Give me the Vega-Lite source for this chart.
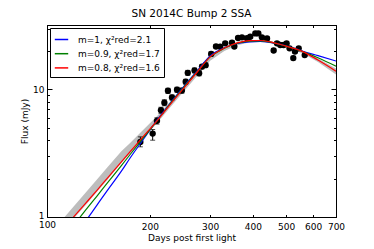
{
  "$schema": "https://vega.github.io/schema/vega-lite/v6.json",
  "width": 289,
  "height": 192,
  "autosize": {"type": "none"},
  "padding": {"left": 47, "top": 25, "right": 38, "bottom": 32},
  "background": "white",
  "title": {"text": "SN 2014C Bump 2 SSA", "fontSize": 10.5, "font": "DejaVu Sans", "fontWeight": "normal", "offset": 5, "color": "black"},
  "config": {
    "view": {"stroke": "black", "strokeWidth": 1},
    "axis": {"domainColor": "black", "tickColor": "black", "labelColor": "black", "titleColor": "black", "labelFont": "DejaVu Sans", "titleFont": "DejaVu Sans", "labelFontSize": 9, "titleFontSize": 9, "titleFontWeight": "normal", "grid": false}
  },
  "datasets": {
    "pts": [
      {"day": 187.5, "flux": 3.88, "lo": 3.55, "hi": 4.25},
      {"day": 203.7, "flux": 4.51, "lo": 4.0, "hi": 4.85},
      {"day": 209.7, "flux": 5.67, "lo": 5.35, "hi": 6.0},
      {"day": 215.4, "flux": 6.88, "lo": 6.5, "hi": 7.25},
      {"day": 220.4, "flux": 7.86, "lo": 7.45, "hi": 8.3},
      {"day": 225.8, "flux": 9.76, "lo": 9.3, "hi": 10.2},
      {"day": 232, "flux": 8.65, "lo": 8.25, "hi": 9.05},
      {"day": 240, "flux": 9.95, "lo": 9.5, "hi": 10.4},
      {"day": 248, "flux": 9.8, "lo": 9.35, "hi": 10.25},
      {"day": 254.4, "flux": 11.5, "lo": 11.0, "hi": 12.0},
      {"day": 258, "flux": 13.5, "lo": 12.9, "hi": 14.1},
      {"day": 270, "flux": 14.1, "lo": 13.5, "hi": 14.7},
      {"day": 278.5, "flux": 13.4, "lo": 12.8, "hi": 14.0},
      {"day": 284, "flux": 15.1, "lo": 14.5, "hi": 15.7},
      {"day": 291, "flux": 15.5, "lo": 14.9, "hi": 16.1},
      {"day": 302, "flux": 19.0, "lo": 18.3, "hi": 19.7},
      {"day": 312, "flux": 21.7, "lo": 21.0, "hi": 22.4},
      {"day": 321, "flux": 21.6, "lo": 20.9, "hi": 22.3},
      {"day": 332, "flux": 23.0, "lo": 22.3, "hi": 23.7},
      {"day": 347.5, "flux": 23.3, "lo": 22.6, "hi": 24.0},
      {"day": 353, "flux": 21.7, "lo": 21.0, "hi": 22.4},
      {"day": 362, "flux": 25.3, "lo": 24.6, "hi": 26.0},
      {"day": 371.6, "flux": 25.6, "lo": 24.9, "hi": 26.3},
      {"day": 384.5, "flux": 25.2, "lo": 24.5, "hi": 25.9},
      {"day": 393, "flux": 25.9, "lo": 25.2, "hi": 26.6},
      {"day": 406.6, "flux": 27.5, "lo": 26.7, "hi": 28.3},
      {"day": 415, "flux": 27.5, "lo": 26.7, "hi": 28.3},
      {"day": 425, "flux": 25.6, "lo": 24.9, "hi": 26.3},
      {"day": 440, "flux": 25.1, "lo": 24.4, "hi": 25.8},
      {"day": 460, "flux": 20.2, "lo": 19.6, "hi": 20.8},
      {"day": 470.5, "flux": 23.0, "lo": 22.3, "hi": 23.7},
      {"day": 481, "flux": 22.3, "lo": 21.6, "hi": 23.0},
      {"day": 492, "flux": 22.3, "lo": 21.6, "hi": 23.0},
      {"day": 502, "flux": 23.0, "lo": 22.3, "hi": 23.7},
      {"day": 512, "flux": 21.0, "lo": 20.4, "hi": 21.6},
      {"day": 525, "flux": 17.6, "lo": 17.0, "hi": 18.2},
      {"day": 531, "flux": 19.8, "lo": 19.2, "hi": 20.4},
      {"day": 544.5, "flux": 21.0, "lo": 20.4, "hi": 21.6},
      {"day": 567, "flux": 18.6, "lo": 18.0, "hi": 19.2}
    ],
    "band": [
      {"day": 100, "lo": 0.55, "hi": 0.69},
      {"day": 105, "lo": 0.64, "hi": 0.805},
      {"day": 110, "lo": 0.74, "hi": 0.93},
      {"day": 120, "lo": 0.98, "hi": 1.22},
      {"day": 130, "lo": 1.25, "hi": 1.56},
      {"day": 140, "lo": 1.58, "hi": 1.97},
      {"day": 150, "lo": 1.95, "hi": 2.44},
      {"day": 165, "lo": 2.66, "hi": 3.27},
      {"day": 175, "lo": 3.15, "hi": 3.8},
      {"day": 190, "lo": 4.05, "hi": 4.75},
      {"day": 210, "lo": 5.45, "hi": 6.2},
      {"day": 230, "lo": 7.3, "hi": 8.1},
      {"day": 250, "lo": 9.5, "hi": 10.5},
      {"day": 275, "lo": 12.8, "hi": 14.0},
      {"day": 300, "lo": 16.8, "hi": 18.2},
      {"day": 330, "lo": 20.0, "hi": 21.3},
      {"day": 360, "lo": 22.2, "hi": 23.4},
      {"day": 390, "lo": 23.3, "hi": 24.3},
      {"day": 420, "lo": 23.5, "hi": 24.5},
      {"day": 450, "lo": 23.0, "hi": 23.9},
      {"day": 490, "lo": 21.6, "hi": 22.5},
      {"day": 530, "lo": 20.2, "hi": 21.2},
      {"day": 560, "lo": 19.1, "hi": 20.1},
      {"day": 620, "lo": 16.4, "hi": 17.5},
      {"day": 700, "lo": 13.1, "hi": 14.6}
    ],
    "curves": [
      {"model": "m=1, χ²red=2.1", "day": 125, "flux": 0.806},
      {"model": "m=1, χ²red=2.1", "day": 130, "flux": 0.935},
      {"model": "m=1, χ²red=2.1", "day": 140, "flux": 1.24},
      {"model": "m=1, χ²red=2.1", "day": 150, "flux": 1.61},
      {"model": "m=1, χ²red=2.1", "day": 165, "flux": 2.29},
      {"model": "m=1, χ²red=2.1", "day": 175, "flux": 2.9},
      {"model": "m=1, χ²red=2.1", "day": 190, "flux": 3.96},
      {"model": "m=1, χ²red=2.1", "day": 210, "flux": 5.78},
      {"model": "m=1, χ²red=2.1", "day": 230, "flux": 7.88},
      {"model": "m=1, χ²red=2.1", "day": 250, "flux": 10.4},
      {"model": "m=1, χ²red=2.1", "day": 275, "flux": 14.0},
      {"model": "m=1, χ²red=2.1", "day": 300, "flux": 18.3},
      {"model": "m=1, χ²red=2.1", "day": 330, "flux": 21.2},
      {"model": "m=1, χ²red=2.1", "day": 360, "flux": 22.9},
      {"model": "m=1, χ²red=2.1", "day": 390, "flux": 23.6},
      {"model": "m=1, χ²red=2.1", "day": 420, "flux": 23.8},
      {"model": "m=1, χ²red=2.1", "day": 450, "flux": 23.4},
      {"model": "m=1, χ²red=2.1", "day": 490, "flux": 22.3},
      {"model": "m=1, χ²red=2.1", "day": 530, "flux": 21.0},
      {"model": "m=1, χ²red=2.1", "day": 560, "flux": 19.9},
      {"model": "m=1, χ²red=2.1", "day": 620, "flux": 18.4},
      {"model": "m=1, χ²red=2.1", "day": 700, "flux": 16.7},
      {"model": "m=0.9, χ²red=1.7", "day": 115, "flux": 0.753},
      {"model": "m=0.9, χ²red=1.7", "day": 120, "flux": 0.87},
      {"model": "m=0.9, χ²red=1.7", "day": 130, "flux": 1.14},
      {"model": "m=0.9, χ²red=1.7", "day": 140, "flux": 1.46},
      {"model": "m=0.9, χ²red=1.7", "day": 150, "flux": 1.84},
      {"model": "m=0.9, χ²red=1.7", "day": 165, "flux": 2.53},
      {"model": "m=0.9, χ²red=1.7", "day": 175, "flux": 3.09},
      {"model": "m=0.9, χ²red=1.7", "day": 190, "flux": 4.07},
      {"model": "m=0.9, χ²red=1.7", "day": 210, "flux": 5.7},
      {"model": "m=0.9, χ²red=1.7", "day": 230, "flux": 7.8},
      {"model": "m=0.9, χ²red=1.7", "day": 250, "flux": 10.25},
      {"model": "m=0.9, χ²red=1.7", "day": 275, "flux": 13.8},
      {"model": "m=0.9, χ²red=1.7", "day": 300, "flux": 18.0},
      {"model": "m=0.9, χ²red=1.7", "day": 330, "flux": 21.0},
      {"model": "m=0.9, χ²red=1.7", "day": 360, "flux": 23.0},
      {"model": "m=0.9, χ²red=1.7", "day": 390, "flux": 23.9},
      {"model": "m=0.9, χ²red=1.7", "day": 420, "flux": 24.0},
      {"model": "m=0.9, χ²red=1.7", "day": 450, "flux": 23.5},
      {"model": "m=0.9, χ²red=1.7", "day": 490, "flux": 22.2},
      {"model": "m=0.9, χ²red=1.7", "day": 530, "flux": 20.9},
      {"model": "m=0.9, χ²red=1.7", "day": 560, "flux": 19.8},
      {"model": "m=0.9, χ²red=1.7", "day": 620, "flux": 17.7},
      {"model": "m=0.9, χ²red=1.7", "day": 700, "flux": 15.2},
      {"model": "m=0.8, χ²red=1.6", "day": 105, "flux": 0.667},
      {"model": "m=0.8, χ²red=1.6", "day": 110, "flux": 0.77},
      {"model": "m=0.8, χ²red=1.6", "day": 120, "flux": 1.01},
      {"model": "m=0.8, χ²red=1.6", "day": 130, "flux": 1.29},
      {"model": "m=0.8, χ²red=1.6", "day": 140, "flux": 1.62},
      {"model": "m=0.8, χ²red=1.6", "day": 150, "flux": 2.01},
      {"model": "m=0.8, χ²red=1.6", "day": 165, "flux": 2.71},
      {"model": "m=0.8, χ²red=1.6", "day": 175, "flux": 3.25},
      {"model": "m=0.8, χ²red=1.6", "day": 190, "flux": 4.19},
      {"model": "m=0.8, χ²red=1.6", "day": 210, "flux": 5.7},
      {"model": "m=0.8, χ²red=1.6", "day": 230, "flux": 7.72},
      {"model": "m=0.8, χ²red=1.6", "day": 250, "flux": 10.1},
      {"model": "m=0.8, χ²red=1.6", "day": 275, "flux": 13.7},
      {"model": "m=0.8, χ²red=1.6", "day": 300, "flux": 18.0},
      {"model": "m=0.8, χ²red=1.6", "day": 330, "flux": 21.1},
      {"model": "m=0.8, χ²red=1.6", "day": 360, "flux": 23.2},
      {"model": "m=0.8, χ²red=1.6", "day": 390, "flux": 24.1},
      {"model": "m=0.8, χ²red=1.6", "day": 420, "flux": 24.2},
      {"model": "m=0.8, χ²red=1.6", "day": 450, "flux": 23.6},
      {"model": "m=0.8, χ²red=1.6", "day": 490, "flux": 22.2},
      {"model": "m=0.8, χ²red=1.6", "day": 530, "flux": 20.9},
      {"model": "m=0.8, χ²red=1.6", "day": 560, "flux": 19.8},
      {"model": "m=0.8, χ²red=1.6", "day": 620, "flux": 17.0},
      {"model": "m=0.8, χ²red=1.6", "day": 700, "flux": 13.9}
    ]
  },
  "resolve": {"axis": {"x": "independent", "y": "independent"}},
  "layer": [
    {
      "data": {"name": "band"},
      "mark": {"type": "area", "color": "#bdbdbd", "clip": true},
      "encoding": {
        "x": {"field": "day", "type": "quantitative", "scale": {"type": "log", "domain": [100, 700], "nice": false},
          "axis": {"orient": "bottom", "title": "Days post first light", "values": [100, 200, 300, 400, 500, 600, 700], "format": "d",
            "tickSize": {"condition": {"test": "datum.value === 100", "value": -5}, "value": -2.5}, "labelPadding": 8, "titlePadding": 2, "labelFlush": false}},
        "y": {"field": "lo", "type": "quantitative", "scale": {"type": "log", "domain": [1, 32], "nice": false},
          "axis": {"orient": "left", "title": "Flux (mJy)", "values": [1, 2, 3, 4, 5, 6, 7, 8, 9, 10, 20, 30], "format": "d",
            "labelExpr": "datum.value === 1 || datum.value === 10 ? datum.label : ''",
            "labelOffset": {"condition": {"test": "datum.value === 1", "value": -1.5}, "value": 0},
            "tickSize": {"condition": {"test": "datum.value === 1 || datum.value === 10", "value": -5}, "value": -2.5}, "labelPadding": 8, "titlePadding": 3, "labelFlush": false}},
        "y2": {"field": "hi"}
      }
    },
    {
      "data": {"name": "pts"},
      "mark": {"type": "rule", "color": "black", "strokeWidth": 1},
      "encoding": {
        "x": {"field": "day", "type": "quantitative", "scale": {"type": "log", "domain": [100, 700], "nice": false}, "axis": null},
        "y": {"field": "lo", "type": "quantitative", "scale": {"type": "log", "domain": [1, 32], "nice": false}, "axis": null},
        "y2": {"field": "hi"}
      }
    },
    {
      "data": {"name": "pts"},
      "mark": {"type": "tick", "orient": "horizontal", "color": "black", "size": 5, "thickness": 1},
      "encoding": {
        "x": {"field": "day", "type": "quantitative", "scale": {"type": "log", "domain": [100, 700], "nice": false}, "axis": null},
        "y": {"field": "lo", "type": "quantitative", "scale": {"type": "log", "domain": [1, 32], "nice": false}, "axis": null}
      }
    },
    {
      "data": {"name": "pts"},
      "mark": {"type": "tick", "orient": "horizontal", "color": "black", "size": 5, "thickness": 1},
      "encoding": {
        "x": {"field": "day", "type": "quantitative", "scale": {"type": "log", "domain": [100, 700], "nice": false}, "axis": null},
        "y": {"field": "hi", "type": "quantitative", "scale": {"type": "log", "domain": [1, 32], "nice": false}, "axis": null}
      }
    },
    {
      "data": {"name": "pts"},
      "mark": {"type": "circle", "color": "black", "size": 40, "opacity": 1},
      "encoding": {
        "x": {"field": "day", "type": "quantitative", "scale": {"type": "log", "domain": [100, 700], "nice": false},
          "axis": {"orient": "top", "title": null, "labels": false, "values": [100, 200, 300, 400, 500, 600, 700],
            "tickSize": {"condition": {"test": "datum.value === 100", "value": -5}, "value": -2.5}}},
        "y": {"field": "flux", "type": "quantitative", "scale": {"type": "log", "domain": [1, 32], "nice": false},
          "axis": {"orient": "right", "title": null, "labels": false, "values": [1, 2, 3, 4, 5, 6, 7, 8, 9, 10, 20, 30],
            "tickSize": {"condition": {"test": "datum.value === 1 || datum.value === 10", "value": -5}, "value": -2.5}}}
      }
    },
    {
      "data": {"name": "curves"},
      "mark": {"type": "line", "strokeWidth": 1.2, "clip": true, "interpolate": "monotone"},
      "encoding": {
        "x": {"field": "day", "type": "quantitative", "scale": {"type": "log", "domain": [100, 700], "nice": false}, "axis": null},
        "y": {"field": "flux", "type": "quantitative", "scale": {"type": "log", "domain": [1, 32], "nice": false}, "axis": null},
        "color": {"field": "model", "type": "nominal",
          "scale": {"domain": ["m=1, χ²red=2.1", "m=0.9, χ²red=1.7", "m=0.8, χ²red=1.6"], "range": ["#0000ff", "#008000", "#ff0000"]},
          "legend": {"title": null, "orient": "top-left", "offset": 3, "fillColor": "white", "strokeColor": "black", "padding": 4, "cornerRadius": 0,
            "symbolType": "stroke", "symbolStrokeWidth": 1.5, "symbolSize": 180, "labelFontSize": 9, "labelFont": "DejaVu Sans", "labelColor": "black", "rowPadding": 1.2, "labelOffset": 9}}
      }
    }
  ]
}
